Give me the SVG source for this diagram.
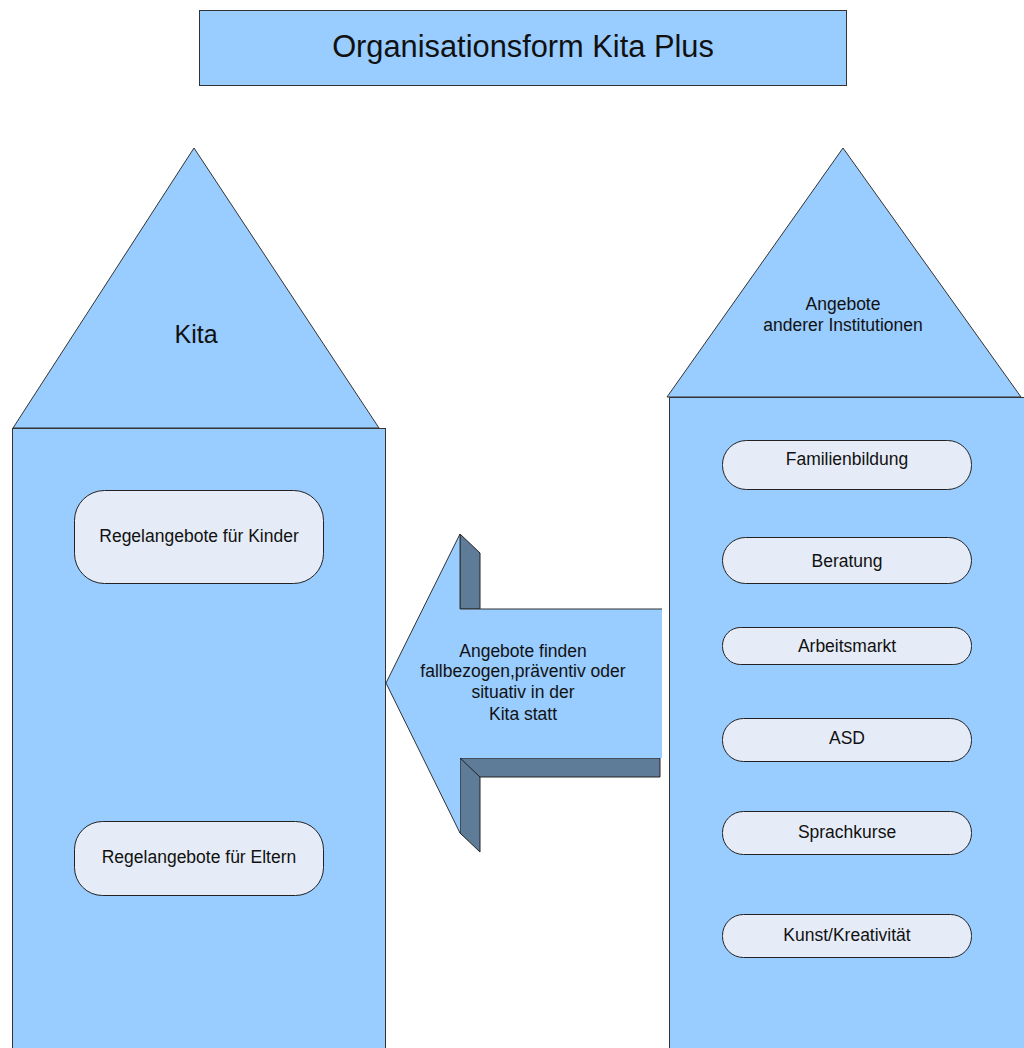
<svg xmlns="http://www.w3.org/2000/svg" width="1024" height="1048" viewBox="0 0 1024 1048">
  <style>
    .blue { fill: #99ccff; stroke: #333333; stroke-width: 1; }
    .pill { fill: #e6ecf7; stroke: #222222; stroke-width: 1; }
    .dark { fill: #5e7b98; stroke: #222222; stroke-width: 1; stroke-linejoin: miter; }
    text { font-family: "Liberation Sans", Arial, sans-serif; fill: #111111; text-anchor: middle; }
    .lbl { font-size: 17.5px; }
    .arr { font-size: 17.5px; }
  </style>
  <rect width="1024" height="1048" fill="#ffffff"/>

  <!-- Title -->
  <g id="title">
    <rect class="blue" x="199.5" y="10.5" width="647" height="75"/>
    <text x="523" y="57" style="font-size:30.8px">Organisationsform Kita Plus</text>
  </g>

  <!-- Left house: Kita -->
  <g id="kita">
    <polygon class="blue" points="194,148 13,428 379,428"/>
    <rect class="blue" x="12.5" y="428.5" width="373" height="640"/>
    <text x="196" y="343" style="font-size:25px">Kita</text>
  </g>
  <g id="kinder">
    <rect class="pill" x="74.5" y="490.5" width="249" height="93" rx="30" ry="30"/>
    <text class="lbl" x="199" y="542">Regelangebote für Kinder</text>
  </g>
  <g id="eltern">
    <rect class="pill" x="74.5" y="821.5" width="249" height="74" rx="28" ry="28"/>
    <text class="lbl" x="199" y="863">Regelangebote für Eltern</text>
  </g>

  <!-- Right house: other institutions -->
  <g id="institutionen">
    <polygon class="blue" points="843,148 667,397 1021,397"/>
    <rect class="blue" x="669.5" y="397.5" width="370" height="670"/>
    <text class="lbl" x="843" y="310">Angebote</text>
    <text class="lbl" x="843" y="331">anderer Institutionen</text>
  </g>
  <g id="familienbildung">
    <rect class="pill" x="722.5" y="440.5" width="249" height="49" rx="24" ry="24"/>
    <text class="lbl" x="847" y="465">Familienbildung</text>
  </g>
  <g id="beratung">
    <rect class="pill" x="722.5" y="537.5" width="249" height="46" rx="23" ry="23"/>
    <text class="lbl" x="847" y="567">Beratung</text>
  </g>
  <g id="arbeitsmarkt">
    <rect class="pill" x="722.5" y="627.5" width="249" height="37" rx="18" ry="18"/>
    <text class="lbl" x="847" y="652">Arbeitsmarkt</text>
  </g>
  <g id="asd">
    <rect class="pill" x="722.5" y="718.5" width="249" height="43" rx="21" ry="21"/>
    <text class="lbl" x="847" y="744">ASD</text>
  </g>
  <g id="sprachkurse">
    <rect class="pill" x="722.5" y="811.5" width="249" height="43" rx="21" ry="21"/>
    <text class="lbl" x="847" y="838">Sprachkurse</text>
  </g>
  <g id="kunst">
    <rect class="pill" x="722.5" y="914.5" width="249" height="43" rx="21" ry="21"/>
    <text class="lbl" x="847" y="941">Kunst/Kreativität</text>
  </g>

  <!-- Connectors: block arrow pointing into the Kita -->
  <g id="connectors">
    <polygon class="dark" points="460,534 480,553 480,609 460,609"/>
    <polygon class="dark" points="460,758 660,758 660,777 480,777 480,852 460,833"/>
    <line x1="460" y1="758" x2="480" y2="777" stroke="#222222" stroke-width="1"/>
    <polygon points="386,683 460,534 460,609 662,609 662,758 460,758 460,833" fill="#99ccff"/>
    <polyline points="386,683 460,534 460,609 662,609" fill="none" stroke="#333333" stroke-width="1"/>
    <polyline points="386,683 460,833" fill="none" stroke="#333333" stroke-width="1"/>
    <text class="arr" x="523" y="657">Angebote finden</text>
    <text class="arr" x="523" y="677">fallbezogen,präventiv oder</text>
    <text class="arr" x="523" y="698">situativ in der</text>
    <text class="arr" x="523" y="720">Kita statt</text>
  </g>
</svg>
